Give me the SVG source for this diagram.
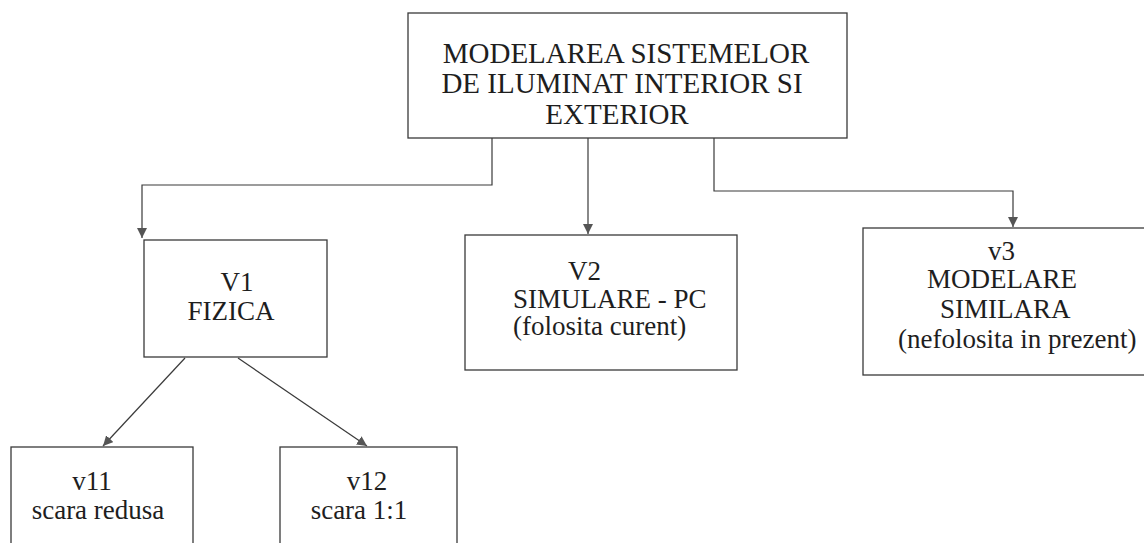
<svg xmlns="http://www.w3.org/2000/svg" width="1144" height="543" viewBox="0 0 1144 543" font-family="'Liberation Serif', 'DejaVu Serif', serif">
<style>
.box{fill:#fff;stroke:#3a3a3a;stroke-width:1.3}
text{font-family:'Liberation Serif','DejaVu Serif',serif;fill:#1e1e1e;font-size:27px}
.big{font-size:29px}
.c{fill:none;stroke:#3a3a3a;stroke-width:1.2}
</style>
<defs>
<marker id="ah" viewBox="0 0 10 10" refX="10" refY="5" markerWidth="10" markerHeight="10" markerUnits="userSpaceOnUse" orient="auto">
<path d="M0,0 L10,5 L0,10 z" fill="#555"/>
</marker>
</defs>
<rect width="1144" height="543" fill="#fff"/>
<g id="connectors">
<polyline class="c" points="492,138 492,185 142,185 142,238" marker-end="url(#ah)"/>
<line class="c" x1="588" y1="138" x2="588" y2="234" marker-end="url(#ah)"/>
<polyline class="c" points="714,138 714,191 1013,191 1013,227" marker-end="url(#ah)"/>
<line class="c" x1="185" y1="358" x2="103" y2="446" marker-end="url(#ah)"/>
<line class="c" x1="238" y1="358" x2="367" y2="446" marker-end="url(#ah)"/>
</g>
<g id="root">
<rect class="box" x="408" y="13" width="439" height="125"/>
<text class="big" x="626" y="63" text-anchor="middle">MODELAREA SISTEMELOR</text>
<text class="big" x="622" y="93" text-anchor="middle">DE ILUMINAT INTERIOR SI</text>
<text class="big" x="617" y="124" text-anchor="middle">EXTERIOR</text>
</g>
<g id="v1">
<rect class="box" x="144" y="240" width="183" height="117"/>
<text x="237" y="291" text-anchor="middle">V1</text>
<text x="231" y="320" text-anchor="middle">FIZICA</text>
</g>
<g id="v2">
<rect class="box" x="465" y="235" width="272" height="135"/>
<text x="568" y="280">V2</text>
<text x="513" y="308">SIMULARE - PC</text>
<text x="513" y="335">(folosita curent)</text>
</g>
<g id="v3">
<rect class="box" x="863" y="228" width="300" height="147"/>
<text x="988" y="260">v3</text>
<text x="927" y="288">MODELARE</text>
<text x="940" y="318">SIMILARA</text>
<text x="898" y="348">(nefolosita in prezent)</text>
</g>
<g id="v11">
<rect class="box" x="11" y="447" width="182" height="120"/>
<text x="92" y="490" text-anchor="middle">v11</text>
<text x="98" y="519" text-anchor="middle">scara redusa</text>
</g>
<g id="v12">
<rect class="box" x="280" y="447" width="177" height="120"/>
<text x="367" y="490" text-anchor="middle">v12</text>
<text x="359" y="519" text-anchor="middle">scara 1:1</text>
</g>
</svg>
